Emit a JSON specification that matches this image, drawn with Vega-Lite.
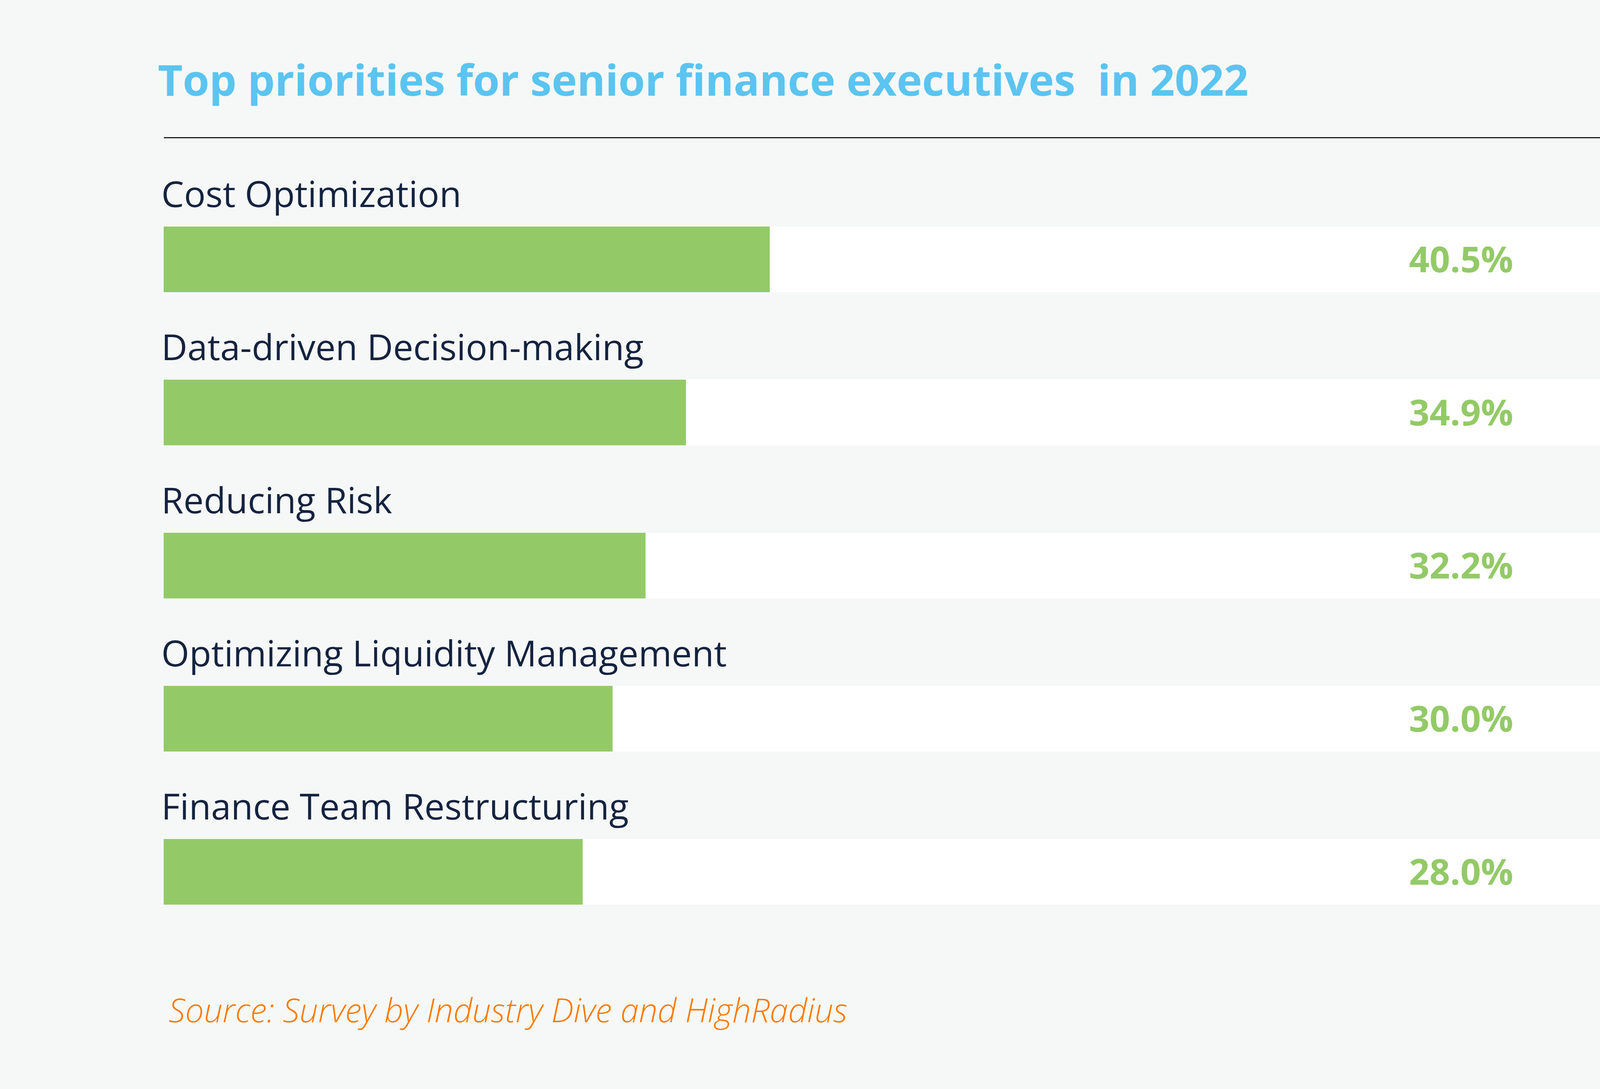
{
  "$schema": "https://vega.github.io/schema/vega-lite/v6.json",
  "autosize": {"type": "none"},
  "padding": {"left": 419, "top": 468, "right": 440, "bottom": 360},
  "width": 3831,
  "height": 1960,
  "background": "#F6F8F7",
  "title": {
    "text": "Top priorities for senior finance executives\u00a0 in 2022",
    "anchor": "start",
    "frame": "group",
    "orient": "top",
    "offset": -3,
    "dx": -15,
    "baseline": "alphabetic",
    "color": "#5BC4F0",
    "font": "Open Sans",
    "fontSize": 110,
    "fontWeight": "bold"
  },
  "config": {
    "view": {"stroke": null},
    "axis": {"labels": false, "ticks": false, "grid": false, "domain": false}
  },
  "data": {
    "values": [
      {"cat": "Cost Optimization", "value": 0.405},
      {"cat": "Data-driven Decision-making", "value": 0.349},
      {"cat": "Reducing Risk", "value": 0.322},
      {"cat": "Optimizing Liquidity Management", "value": 0.30},
      {"cat": "Finance Team Restructuring", "value": 0.28}
    ]
  },
  "layer": [
    {
      "mark": {"type": "bar", "color": "#FFFFFF"},
      "encoding": {
        "x": {"datum": 1, "type": "quantitative", "scale": {"domain": [0, 1], "nice": false},
          "axis": {"orient": "top", "domain": true, "domainColor": "#1F1F1F", "domainWidth": 3, "offset": 116, "title": null}},
        "y": {"field": "cat", "type": "nominal", "sort": null,
          "scale": {"paddingInner": 0.571, "paddingOuter": 0.2855},
          "axis": {"title": "Source: Survey by Industry Dive and HighRadius", "titleAngle": 0, "titleAlign": "left", "titleBaseline": "alphabetic", "titleX": 12, "titleY": 2148, "titleFont": "Open Sans", "titleFontSize": 85, "titleFontStyle": "italic", "titleFontWeight": 300, "titleColor": "#FF7A00"}}
      }
    },
    {
      "mark": {"type": "bar", "color": "#93CA67"},
      "encoding": {
        "x": {"field": "value", "type": "quantitative", "scale": {"domain": [0, 1], "nice": false},
          "axis": {"orient": "top", "domain": true, "domainColor": "#1F1F1F", "domainWidth": 3, "offset": 116, "title": null}},
        "y": {"field": "cat", "type": "nominal", "sort": null,
          "axis": {"title": "Source: Survey by Industry Dive and HighRadius", "titleAngle": 0, "titleAlign": "left", "titleBaseline": "alphabetic", "titleX": 12, "titleY": 2148, "titleFont": "Open Sans", "titleFontSize": 85, "titleFontStyle": "italic", "titleFontWeight": 300, "titleColor": "#FF7A00"}}
      }
    },
    {
      "mark": {"type": "text", "align": "left", "baseline": "alphabetic", "dx": -6, "dy": -50, "font": "Open Sans", "fontSize": 92, "color": "#14233F"},
      "encoding": {
        "x": {"datum": 0, "type": "quantitative", "scale": {"domain": [0, 1], "nice": false},
          "axis": {"orient": "top", "domain": true, "domainColor": "#1F1F1F", "domainWidth": 3, "offset": 116, "title": null}},
        "y": {"field": "cat", "type": "nominal", "sort": null, "bandPosition": 0,
          "axis": {"title": "Source: Survey by Industry Dive and HighRadius", "titleAngle": 0, "titleAlign": "left", "titleBaseline": "alphabetic", "titleX": 12, "titleY": 2148, "titleFont": "Open Sans", "titleFontSize": 85, "titleFontStyle": "italic", "titleFontWeight": 300, "titleColor": "#FF7A00"}},
        "text": {"field": "cat"}
      }
    },
    {
      "mark": {"type": "text", "align": "center", "baseline": "alphabetic", "dy": 33, "font": "Open Sans", "fontSize": 92, "fontWeight": "bold", "color": "#93CA67"},
      "encoding": {
        "x": {"datum": 0.867, "type": "quantitative", "scale": {"domain": [0, 1], "nice": false},
          "axis": {"orient": "top", "domain": true, "domainColor": "#1F1F1F", "domainWidth": 3, "offset": 116, "title": null}},
        "y": {"field": "cat", "type": "nominal", "sort": null, "bandPosition": 0.5,
          "axis": {"title": "Source: Survey by Industry Dive and HighRadius", "titleAngle": 0, "titleAlign": "left", "titleBaseline": "alphabetic", "titleX": 12, "titleY": 2148, "titleFont": "Open Sans", "titleFontSize": 85, "titleFontStyle": "italic", "titleFontWeight": 300, "titleColor": "#FF7A00"}},
        "text": {"field": "value", "format": ".1%"}
      }
    }
  ]
}
